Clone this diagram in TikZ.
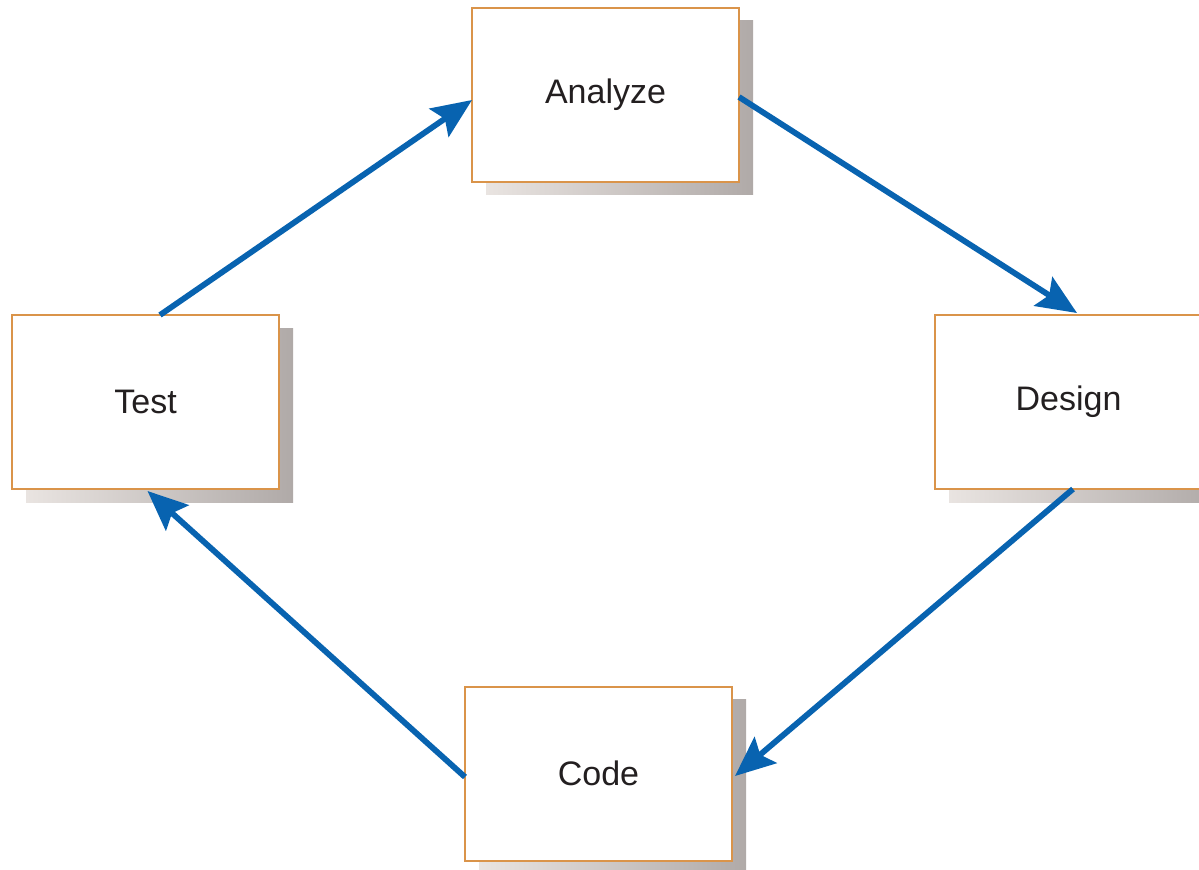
\documentclass[tikz,border=0pt]{standalone}
\usepackage{fontspec}
\setmainfont{Liberation Sans}
\usetikzlibrary{arrows.meta,backgrounds}

\definecolor{boxedge}{RGB}{218,148,74}
\definecolor{flowblue}{RGB}{8,99,176}
\definecolor{shadelight}{RGB}{233,228,225}
\definecolor{shadedark}{RGB}{176,170,168}
\definecolor{labeltext}{RGB}{35,31,32}

\tikzset{
  phase/.style={draw=boxedge, line width=1pt, fill=white, rectangle,
    minimum width=133.5pt, minimum height=87pt, inner sep=0pt, outer sep=0pt,
    text=labeltext, font=\fontsize{17}{20}\selectfont},
  flow/.style={draw=flowblue, line width=2.9pt,
    -{Stealth[length=20pt, width=17pt, inset=3.5pt]}},
  boxshadow/.style={left color=shadelight, right color=shadedark, draw=none}
}

\begin{document}
\begin{tikzpicture}[x=0.5pt, y=-0.5pt]
  \useasboundingbox (0,0) rectangle (1199,869);

  % the four phases of the cycle
  \node[phase] (analyze) at (605.5,94.5) {Analyze};
  \node[phase] (test)    at (145.5,402)  {Test};
  \node[phase] (design)  at (1068.5,402) {Design};
  \node[phase] (code)    at (598.5,773.5) {Code};

  % drop shadows behind the boxes
  \begin{scope}[on background layer]
    \foreach \n in {analyze,test,design,code}
      \fill[boxshadow] ([shift={(7pt,-6.5pt)}]\n.north west)
        rectangle ([shift={(7pt,-6.5pt)}]\n.south east);
  \end{scope}

  % cycle arrows
  \draw[flow] ([xshift=7.25pt]test.north) -- ([yshift=-2.75pt]analyze.west);
  \draw[flow] ([yshift=-1.25pt]analyze.east) -- ([xshift=4.25pt,yshift=1pt]design.north);
  \draw[flow] ([xshift=2.25pt]design.south) -- ([xshift=1.5pt,yshift=-1.25pt]code.east);
  \draw[flow] ([yshift=-1.75pt]code.west) -- ([xshift=1pt,yshift=-1pt]test.south);
\end{tikzpicture}
\end{document}
